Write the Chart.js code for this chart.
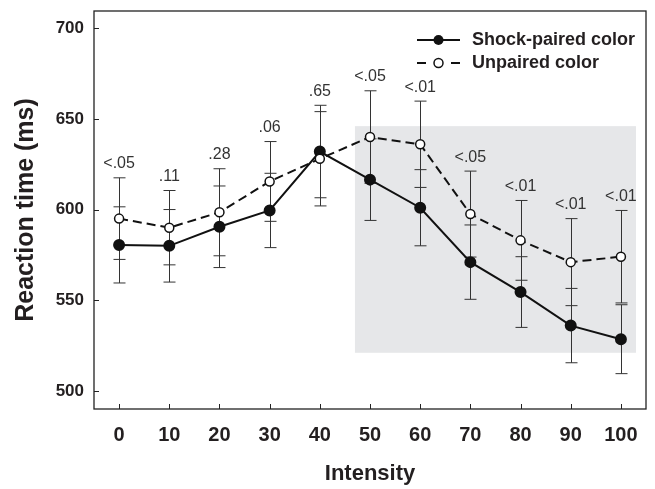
<!DOCTYPE html>
<html>
<head>
<meta charset="utf-8">
<script src="https://cdn.jsdelivr.net/npm/chart.js@4/dist/chart.umd.min.js"></script>
<style>
  html, body { margin: 0; padding: 0; background: #fff; }
  #wrap { width: 655px; height: 489px; }
</style>
</head>
<body>
<div id="wrap"><canvas id="grafico"></canvas></div>
<script>
// Dados
const intensidades = [0, 10, 20, 30, 40, 50, 60, 70, 80, 90, 100];
const shockPaired = [580.5, 580, 590.5, 599.5, 632, 616.5, 601, 571, 554.5, 536, 528.5];
const shockErro   = [21, 20, 22.5, 20.5, 25.5, 22.5, 21, 20.5, 19.5, 20.5, 19];
const unpaired    = [595, 590, 598.5, 615.5, 628, 640, 636, 597.5, 583, 571, 574];
const unpairedErro = [22.5, 20.5, 24, 22, 26, 25.5, 23.8, 23.7, 22, 24, 25.5];
const pValores = ['<.05', '.11', '.28', '.06', '.65', '<.05', '<.01', '<.05', '<.01', '<.01', '<.01'];
const yTicks = [500, 550, 600, 650, 700];
// região sombreada (intensidade / ms)
const faixaX = [47, 103];
const faixaY = [521, 646];

const corTexto = '#231f20';

const toPoints = (vals) => intensidades.map((x, i) => ({ x: x, y: vals[i] }));

// Plugin: faixa cinza, barras de erro, moldura, marcas e rótulos de p
const extras = {
  id: 'extras',
  beforeDatasetsDraw(chart) {
    const { ctx, scales: { x, y } } = chart;
    ctx.save();
    // faixa cinza
    ctx.fillStyle = '#e6e7e9';
    const x0 = x.getPixelForValue(faixaX[0]), x1 = x.getPixelForValue(faixaX[1]);
    const y0 = y.getPixelForValue(faixaY[1]), y1 = y.getPixelForValue(faixaY[0]);
    ctx.fillRect(x0, y0, x1 - x0, y1 - y0);

    // barras de erro
    ctx.strokeStyle = '#333';
    ctx.lineWidth = 1;
    const series = [[shockPaired, shockErro], [unpaired, unpairedErro]];
    series.forEach(([vals, errs]) => {
      vals.forEach((v, i) => {
        const px = Math.round(x.getPixelForValue(intensidades[i])) + 0.5;
        const top = y.getPixelForValue(v + errs[i]);
        const bot = y.getPixelForValue(v - errs[i]);
        ctx.beginPath();
        ctx.moveTo(px, top); ctx.lineTo(px, bot);
        ctx.moveTo(px - 6, top); ctx.lineTo(px + 6, top);
        ctx.moveTo(px - 6, bot); ctx.lineTo(px + 6, bot);
        ctx.stroke();
      });
    });
    ctx.restore();
  },
  afterDatasetsDraw(chart) {
    const { ctx, chartArea: a, scales: { x, y } } = chart;
    ctx.save();
    // moldura
    ctx.strokeStyle = '#222';
    ctx.lineWidth = 1.3;
    ctx.strokeRect(a.left, a.top, a.right - a.left, a.bottom - a.top);

    // marcas internas
    ctx.lineWidth = 1;
    ctx.beginPath();
    yTicks.forEach(t => {
      const py = Math.round(y.getPixelForValue(t)) + 0.5;
      ctx.moveTo(a.left, py); ctx.lineTo(a.left + 5, py);
    });
    intensidades.forEach(t => {
      const px = Math.round(x.getPixelForValue(t)) + 0.5;
      ctx.moveTo(px, a.bottom); ctx.lineTo(px, a.bottom - 5);
    });
    ctx.stroke();

    // rótulos de p
    ctx.fillStyle = '#333';
    ctx.font = '16px "Liberation Sans", Arial, sans-serif';
    ctx.textAlign = 'center';
    ctx.textBaseline = 'middle';
    pValores.forEach((p, i) => {
      const topo = Math.max(shockPaired[i] + shockErro[i], unpaired[i] + unpairedErro[i]);
      ctx.fillText(p, x.getPixelForValue(intensidades[i]), y.getPixelForValue(topo) - 14);
    });

    // legenda
    ctx.strokeStyle = '#111';
    ctx.lineWidth = 2;
    ctx.beginPath();
    ctx.moveTo(417, 40); ctx.lineTo(460, 40);
    ctx.stroke();
    ctx.beginPath();
    ctx.arc(438.5, 40, 5, 0, Math.PI * 2);
    ctx.fillStyle = '#111';
    ctx.fill();

    ctx.beginPath();
    ctx.moveTo(417, 63); ctx.lineTo(426, 63);
    ctx.moveTo(451, 63); ctx.lineTo(460, 63);
    ctx.stroke();
    ctx.beginPath();
    ctx.arc(438.5, 63, 4.5, 0, Math.PI * 2);
    ctx.fillStyle = '#fff';
    ctx.fill();
    ctx.lineWidth = 1.5;
    ctx.stroke();

    ctx.fillStyle = corTexto;
    ctx.font = 'bold 18px "Liberation Sans", Arial, sans-serif';
    ctx.textAlign = 'left';
    ctx.fillText('Shock-paired color', 472, 40);
    ctx.fillText('Unpaired color', 472, 63);
    ctx.restore();
  }
};

const ctx = document.getElementById('grafico').getContext('2d');
const grafico = new Chart(ctx, {
  type: 'scatter',
  data: {
    datasets: [
      {
        label: 'Shock-paired color',
        data: toPoints(shockPaired),
        showLine: true,
        borderColor: '#111',
        borderWidth: 2,
        pointRadius: 5,
        pointBackgroundColor: '#111',
        pointBorderColor: '#111',
        order: 1
      },
      {
        label: 'Unpaired color',
        data: toPoints(unpaired),
        showLine: true,
        borderColor: '#111',
        borderWidth: 2,
        borderDash: [9, 5],
        pointRadius: 4.5,
        pointBorderWidth: 1.5,
        pointBackgroundColor: '#fff',
        pointBorderColor: '#111',
        order: 0
      }
    ]
  },
  options: {
    responsive: true,
    maintainAspectRatio: false,
    animation: false,
    layout: { padding: { top: 11, right: 9, left: 0, bottom: 0 } },
    plugins: {
      legend: { display: false },
      tooltip: { enabled: false }
    },
    scales: {
      x: {
        type: 'linear',
        min: -5,
        max: 105,
        afterBuildTicks: (s) => { s.ticks = intensidades.map(v => ({ value: v })); },
        afterFit: (s) => { s.height = 80; s.paddingLeft = 0; s.paddingRight = 0; },
        grid: { display: false, drawTicks: false },
        border: { display: false },
        ticks: {
          padding: 14,
          color: corTexto,
          font: { family: '"Liberation Sans", Arial, sans-serif', size: 20, weight: 'bold' }
        },
        title: {
          display: true,
          text: 'Intensity',
          color: corTexto,
          padding: { top: 0, bottom: 2 },
          font: { family: '"Liberation Sans", Arial, sans-serif', size: 22, weight: 'bold' }
        }
      },
      y: {
        min: 490,
        max: 709.5,
        afterBuildTicks: (s) => { s.ticks = yTicks.map(v => ({ value: v })); },
        afterFit: (s) => { s.width = 94; s.paddingTop = 0; s.paddingBottom = 0; },
        grid: { display: false, drawTicks: false },
        border: { display: false },
        ticks: {
          padding: 10,
          color: corTexto,
          font: { family: '"Liberation Sans", Arial, sans-serif', size: 17, weight: 'bold' }
        },
        title: {
          display: true,
          text: 'Reaction time (ms)',
          color: corTexto,
          padding: { top: 11, bottom: 0 },
          font: { family: '"Liberation Sans", Arial, sans-serif', size: 25, weight: 'bold' }
        }
      }
    }
  },
  plugins: [extras]
});
</script>
</body>
</html>
